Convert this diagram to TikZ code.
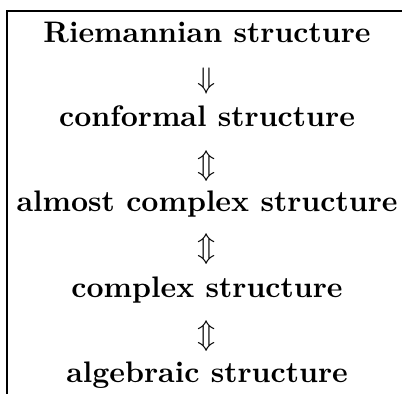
\documentclass[tikz,border=0pt]{standalone}
\usepackage{amsmath}
\usepackage{amssymb}
\usetikzlibrary{positioning}

\begin{document}
\begin{tikzpicture}[
    structure/.style={font=\bfseries, anchor=base, inner sep=0pt},
    implies/.style={inner sep=0pt}
]

    \useasboundingbox (0,0) rectangle (4.757,-4.663);

    % Frame
    \draw[line width=0.8pt] (4.757,-0.13) -- (0.083,-0.13) -- (0.083,-4.663);

    % Structures
    \node[structure] (riem) at (2.45,-0.497) {Riemannian structure};
    \node[structure] (conf) at (2.45,-1.491) {conformal structure};
    \node[structure] (almost) at (2.45,-2.497) {almost complex structure};
    \node[structure] (cplx) at (2.45,-3.515) {complex structure};
    \node[structure] (alg) at (2.45,-4.521) {algebraic structure};

    % Implications
    \node[implies] (imp1) at (2.45,-0.959) {$\Downarrow$};
    \node[implies] (imp2) at (2.45,-1.964) {$\Updownarrow$};
    \node[implies] (imp3) at (2.45,-2.947) {$\Updownarrow$};
    \node[implies] (imp4) at (2.45,-3.976) {$\Updownarrow$};

\end{tikzpicture}
\end{document}
